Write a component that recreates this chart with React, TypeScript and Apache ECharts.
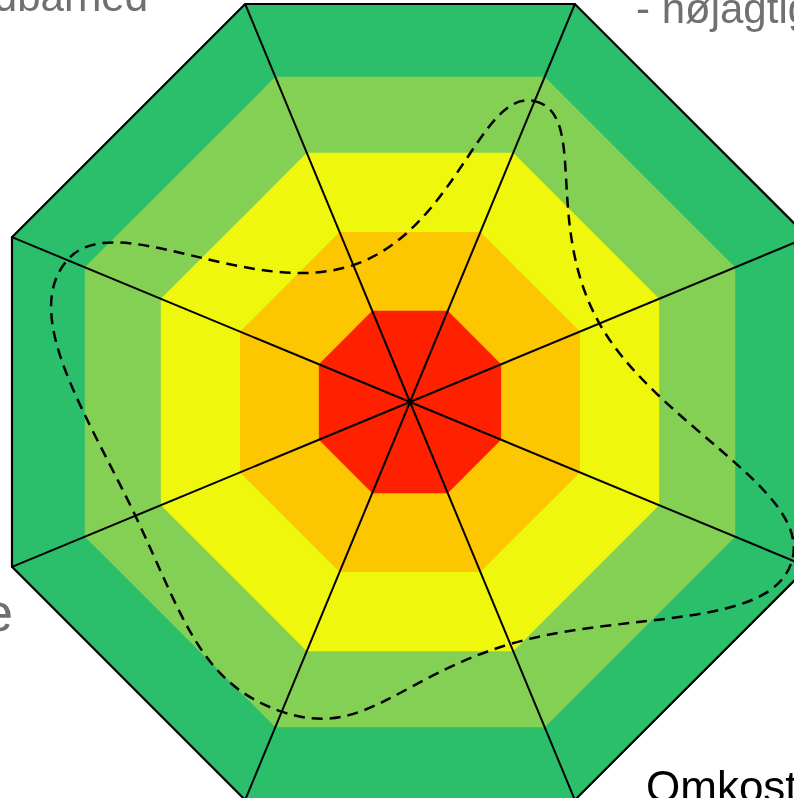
import React, { useEffect, useRef } from "react";
import * as echarts from "echarts";

// Spoke directions, degrees clockwise from the top
const spokeAngles = [22.5, 67.5, 112.5, 157.5, 202.5, 247.5, 292.5, 337.5];
// Coloured rating bands (percent of full scale), outermost first
const bandLevels = [100, 81.7, 62.6, 42.7, 22.9];
const bandColors = ["#2bbf6b", "#84d055", "#eef70c", "#fcc600", "#ff2000"];
// Dashed profile values, one per spoke (percent of full scale)
const curveValues = [75.6, 47.6, 96, 60.8, 77.8, 69, 86.1, 34.4];
// Visible category labels (partly cut by the picture edge)
const labelTexts = ["- nøjagtighed", "Holdbarhed", "Ydelse", "Omkostninger"];

const TENSION = 0.22;

export default function App() {
  const ref = useRef<HTMLDivElement>(null);
  useEffect(() => {
    if (!ref.current) return;
    const chart = echarts.init(ref.current, null, { renderer: "svg" });
    const center = [410, 402];
    const R = 430.8;
    const font = (s: number) => `${s}px "Liberation Sans", Arial, sans-serif`;
    const txt = (text: string, x: number, y: number, size: number, align: string, fill: string) => ({
      type: "text",
      x,
      y,
      z: 50,
      style: {
        text,
        font: font(size),
        fill,
        align,
        textAlign: align,
        verticalAlign: "middle",
        textVerticalAlign: "middle",
      },
    });
    const curveData = curveValues.map((v, i) => [v, spokeAngles[i]]);
    const renderCurve = (params: any, api: any) => {
      if (params.dataIndex !== 0) return null;
      const pts = curveData.map((d) => api.coord(d));
      const n = pts.length;
      let d = `M${pts[0][0]},${pts[0][1]}`;
      for (let i = 0; i < n; i++) {
        const p0 = pts[(i - 1 + n) % n];
        const p1 = pts[i];
        const p2 = pts[(i + 1) % n];
        const p3 = pts[(i + 2) % n];
        const c1x = p1[0] + (p2[0] - p0[0]) * TENSION;
        const c1y = p1[1] + (p2[1] - p0[1]) * TENSION;
        const c2x = p2[0] - (p3[0] - p1[0]) * TENSION;
        const c2y = p2[1] - (p3[1] - p1[1]) * TENSION;
        d += ` C${c1x},${c1y} ${c2x},${c2y} ${p2[0]},${p2[1]}`;
      }
      d += " Z";
      return {
        type: "path",
        shape: { pathData: d },
        style: { fill: "none", stroke: "#000", lineWidth: 2.5, lineDash: [11, 7] },
      };
    };
    chart.setOption({
      animation: false,
      radar: {
        center,
        radius: R,
        startAngle: 112.5,
        shape: "polygon",
        splitNumber: 1,
        indicator: spokeAngles.map(() => ({ name: "", min: 0, max: 100 })),
        axisName: { show: false },
        axisLine: { show: true, lineStyle: { color: "#000", width: 2 } },
        splitLine: { show: true, lineStyle: { color: "#000", width: 2.2 } },
        splitArea: { show: false },
        axisTick: { show: false },
        axisLabel: { show: false },
        z: 2,
      },
      polar: { center, radius: [0, R] },
      angleAxis: { type: "value", min: 0, max: 360, startAngle: 90, clockwise: true, show: false },
      radiusAxis: { type: "value", min: 0, max: 100, show: false },
      series: [
        {
          type: "radar",
          z: 1,
          silent: true,
          symbol: "none",
          data: bandLevels.map((lv, i) => ({
            value: spokeAngles.map(() => lv),
            symbol: "none",
            lineStyle: { width: 0, opacity: 0 },
            areaStyle: { color: bandColors[i], opacity: 1 },
          })),
        },
        {
          type: "custom",
          coordinateSystem: "polar",
          z: 10,
          silent: true,
          clip: false,
          encode: { radius: 0, angle: 1 },
          renderItem: renderCurve,
          data: curveData,
        },
      ],
      graphic: [
        txt(labelTexts[0], 636, 8, 42, "left", "#707070"),
        txt(labelTexts[1], 148, -4, 42, "right", "#707070"),
        txt(labelTexts[2], 13, 612, 54, "right", "#707070"),
        txt(labelTexts[3], 646, 786, 44, "left", "#000000"),
      ],
    });
    return () => chart.dispose();
  }, []);
  return <div ref={ref} style={{ position: "fixed", left: 0, top: 0, width: 794, height: 798 }} />;
}
